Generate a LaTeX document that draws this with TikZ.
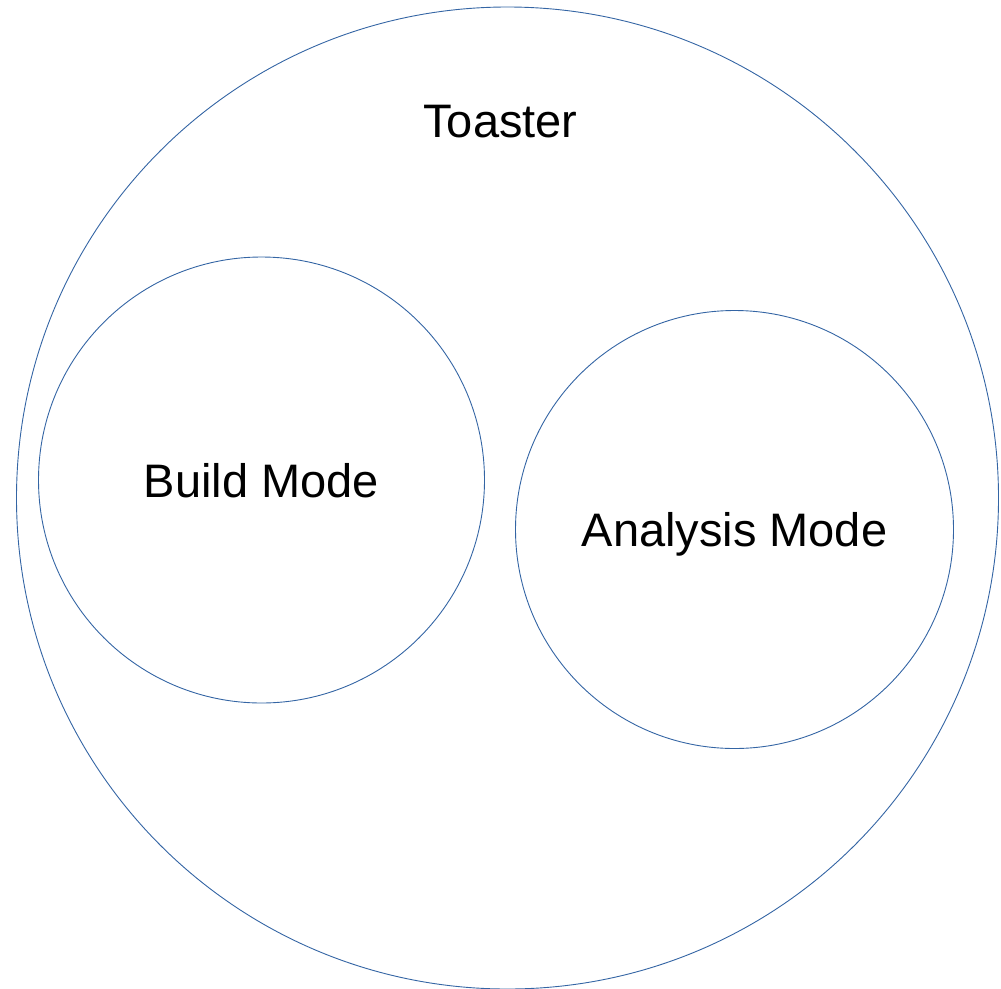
\documentclass[tikz,border=0pt]{standalone}
\usepackage{fontspec}
\setmainfont{Liberation Sans}
\usetikzlibrary{positioning}
\definecolor{ringblue}{HTML}{3465A4}

\begin{document}
\begin{tikzpicture}[x=1pt, y=-1pt,
    ring/.style={circle, draw=ringblue, line width=0.9pt, inner sep=0pt},
    caption/.style={font=\fontsize{47}{56}\selectfont, text height=34pt, text depth=0pt}]
    \useasboundingbox (0,0) rectangle (1001,988);

    % Outer circle
    \node[ring, minimum size=982pt] (toaster) at (507.5,498) {};
    \node[caption, anchor=base] (toasterlabel) at (500.5,137) {Toaster};

    % Modes
    \node[ring, caption, minimum size=446pt] (build) at (261.5,480) {Build Mode};
    \node[ring, caption, minimum size=438pt] (analysis) at (734.5,529.5) {Analysis Mode};
\end{tikzpicture}
\end{document}
